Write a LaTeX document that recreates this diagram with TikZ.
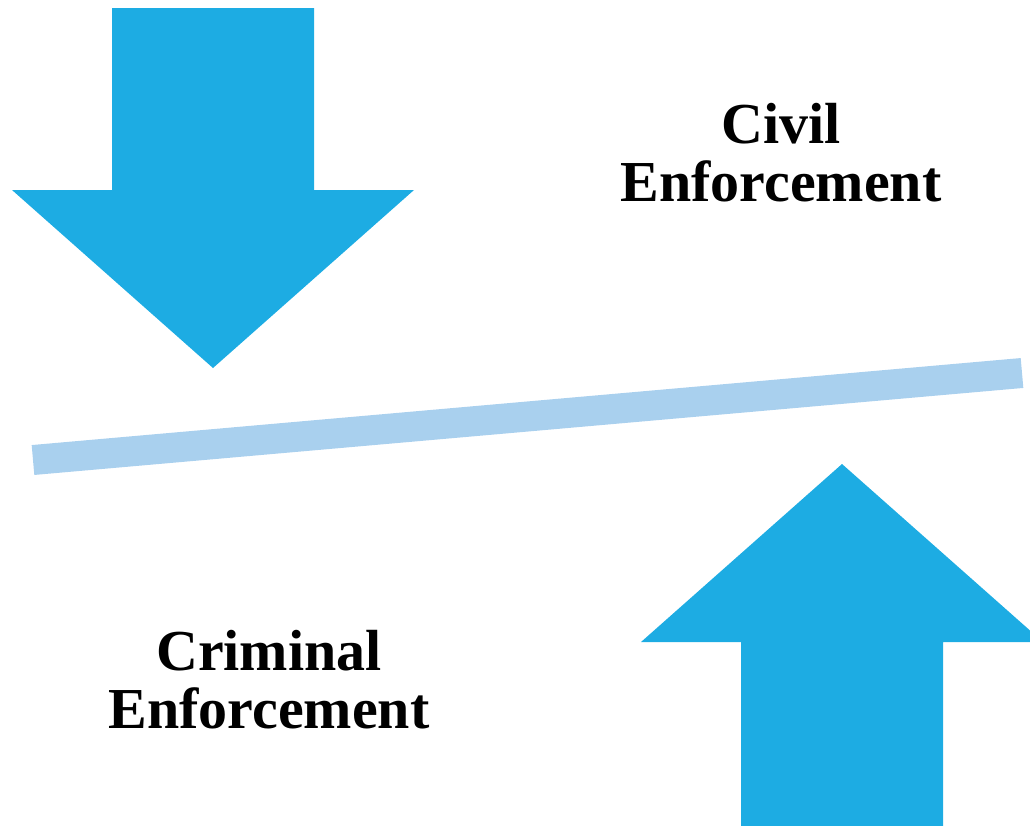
\documentclass[tikz,border=0pt]{standalone}
\usepackage{fontspec}
\setmainfont{Liberation Serif}
\definecolor{arrowblue}{HTML}{1DACE3}
\definecolor{barblue}{HTML}{A9D0EE}
\newcommand{\downarrowshape}[3]{%
  \fill[arrowblue] (#1-101,#2) -- (#1+101,#2) -- (#1+101,#2+182) -- (#1+201,#2+182)
    -- (#1,#3) -- (#1-201,#2+182) -- (#1-101,#2+182) -- cycle}
\newcommand{\uparrowshape}[3]{%
  \fill[arrowblue] (#1-101,#2) -- (#1+101,#2) -- (#1+101,#2-188) -- (#1+201,#2-188)
    -- (#1,#3) -- (#1-201,#2-188) -- (#1-101,#2-188) -- cycle}

\begin{document}
\begin{tikzpicture}[x=0.02cm, y=-0.02cm,
    label/.style={font=\bfseries\fontsize{33}{33}\selectfont, align=center}]
  \useasboundingbox (0,0) rectangle (1030,825);
  \clip (0,0) rectangle (1030,825);

  \downarrowshape{213}{8}{368};
  \uparrowshape{842}{830}{464};

  \coordinate (barleft) at (33,460);
  \coordinate (barright) at (1022,373);
  \draw[barblue, line width=30*0.02cm] (barleft) -- (barright);

  \node[label] (civil) at (781,153) {Civil\\Enforcement};
  \node[label] (criminal) at (269,680) {Criminal\\Enforcement};
\end{tikzpicture}
\end{document}
